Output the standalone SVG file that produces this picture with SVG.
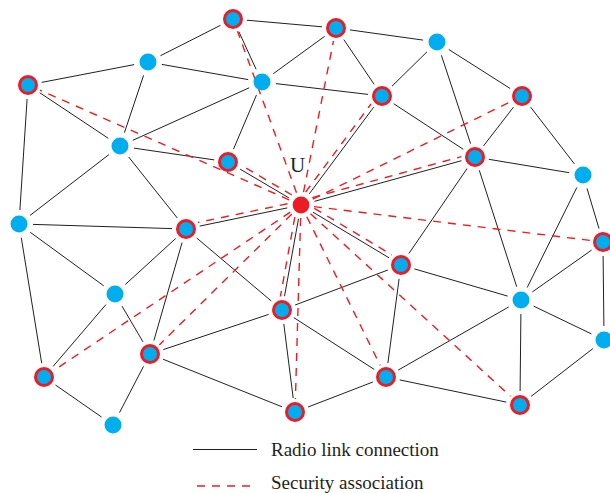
<svg xmlns="http://www.w3.org/2000/svg" width="610" height="493" viewBox="0 0 610 493">
  <style>
    .link { stroke: #231F20; stroke-width: 1; fill: none; }
    .sa { stroke: #ED1C24; stroke-width: 1.4; stroke-dasharray: 8 7; fill: none; }
    .node { fill: #00AEEF; }
    .ring { fill: #00AEEF; stroke: #ED1C24; stroke-width: 3; }
    .user { fill: #ED1C24; }
    .label { font-family: "Liberation Serif", "Times New Roman", serif; fill: #231F20; }
  </style>
  <rect width="610" height="493" fill="#ffffff"/>

  <g id="connectors">
    <!-- radio links between neighbouring nodes -->
    <g id="radio-links" class="link">
      <line x1="220.5" y1="25.3" x2="160.5" y2="55.7"/>
      <line x1="246.9" y1="20.2" x2="322.1" y2="26.8"/>
      <line x1="238.9" y1="31.7" x2="256.1" y2="69.3"/>
      <line x1="41.7" y1="82.4" x2="134.2" y2="64.6"/>
      <line x1="161.8" y1="64.4" x2="248.2" y2="79.6"/>
      <line x1="143.6" y1="75.3" x2="124.4" y2="132.7"/>
      <line x1="273.3" y1="73.7" x2="324.7" y2="36.3"/>
      <line x1="275.9" y1="83.6" x2="368.1" y2="94.4"/>
      <line x1="249.2" y1="87.8" x2="132.8" y2="140.3"/>
      <line x1="256.5" y1="94.9" x2="233.5" y2="149.1"/>
      <line x1="39.7" y1="92.7" x2="108.3" y2="138.3"/>
      <line x1="27.1" y1="99" x2="19.9" y2="210"/>
      <line x1="133.9" y1="148.1" x2="214.2" y2="159.9"/>
      <line x1="108.9" y1="154.6" x2="30.1" y2="215.4"/>
      <line x1="128.7" y1="157" x2="177.3" y2="218"/>
      <line x1="240.1" y1="169.1" x2="288.9" y2="197.9"/>
      <line x1="33" y1="224.4" x2="172" y2="228.6"/>
      <line x1="199.7" y1="226.1" x2="287.3" y2="207.9"/>
      <line x1="30.3" y1="232.3" x2="103.7" y2="285.8"/>
      <line x1="21.3" y1="237.8" x2="41.7" y2="363.2"/>
      <line x1="175.7" y1="238.5" x2="125.3" y2="284.5"/>
      <line x1="182.1" y1="242.5" x2="153.9" y2="340.5"/>
      <line x1="196.7" y1="238" x2="271.3" y2="301"/>
      <line x1="122" y1="306.1" x2="143" y2="341.9"/>
      <line x1="105.9" y1="304.6" x2="53.1" y2="366.4"/>
      <line x1="163.3" y1="349.6" x2="268.7" y2="314.4"/>
      <line x1="163" y1="359.2" x2="282" y2="406.8"/>
      <line x1="143.5" y1="366.4" x2="119.5" y2="412.6"/>
      <line x1="55.5" y1="385" x2="101.5" y2="417"/>
      <line x1="284.5" y1="296.2" x2="298.5" y2="218.8"/>
      <line x1="283.8" y1="323.9" x2="293.2" y2="398.1"/>
      <line x1="295.1" y1="305" x2="387.9" y2="270"/>
      <line x1="293.8" y1="317.6" x2="374.2" y2="369.4"/>
      <line x1="313" y1="212.2" x2="389" y2="257.8"/>
      <line x1="408.9" y1="253.5" x2="467.1" y2="168.5"/>
      <line x1="479.3" y1="170.3" x2="516.7" y2="286.7"/>
      <line x1="527.2" y1="287.5" x2="576.8" y2="187.5"/>
      <line x1="587" y1="188.4" x2="599" y2="228.6"/>
      <line x1="414.4" y1="268.9" x2="507.6" y2="296.1"/>
      <line x1="399.1" y1="278.9" x2="387.9" y2="363.1"/>
      <line x1="591.6" y1="250.1" x2="532.4" y2="291.9"/>
      <line x1="603.1" y1="256" x2="603.9" y2="326"/>
      <line x1="533.6" y1="306.1" x2="591.4" y2="333.9"/>
      <line x1="508.8" y1="306.9" x2="398.2" y2="370.1"/>
      <line x1="520.9" y1="314" x2="520.1" y2="391"/>
      <line x1="592.9" y1="348.6" x2="531.1" y2="396.4"/>
      <line x1="399.7" y1="379.9" x2="506.3" y2="402.1"/>
      <line x1="372.9" y1="382" x2="308.1" y2="407"/>
      <line x1="343.8" y1="39.6" x2="374.2" y2="84.4"/>
      <line x1="349.9" y1="29.9" x2="423.1" y2="40.1"/>
      <line x1="392" y1="86.2" x2="427" y2="51.8"/>
      <line x1="441.4" y1="55.3" x2="470.6" y2="143.7"/>
      <line x1="448.8" y1="49.5" x2="510.2" y2="88.5"/>
      <line x1="393.7" y1="103.7" x2="463.3" y2="149.3"/>
      <line x1="373.7" y1="107.2" x2="309.3" y2="193.8"/>
      <line x1="513.5" y1="107.1" x2="483.5" y2="145.9"/>
      <line x1="530.6" y1="107.1" x2="574.4" y2="163.9"/>
      <line x1="461.5" y1="160.7" x2="314.5" y2="201.3"/>
      <line x1="488.8" y1="159.3" x2="569.2" y2="172.7"/>
    </g>
    <!-- security associations held by U -->
    <g id="security-associations" class="sa">
      <line x1="296.5" y1="192.8" x2="237.5" y2="31.2"/>
      <line x1="289.1" y1="199.8" x2="39.9" y2="90.2"/>
      <line x1="291.8" y1="195" x2="241.2" y2="165.2"/>
      <line x1="287.5" y1="203.8" x2="197.9" y2="222.5"/>
      <line x1="303.5" y1="192.2" x2="333.5" y2="40.8"/>
      <line x1="305.6" y1="192.2" x2="371" y2="104"/>
      <line x1="312.7" y1="199.2" x2="510.3" y2="101.8"/>
      <line x1="312.4" y1="197.6" x2="461.4" y2="156.6"/>
      <line x1="313.9" y1="206.6" x2="590.1" y2="240.4"/>
      <line x1="314.3" y1="208.3" x2="391.9" y2="254.9"/>
      <line x1="310.6" y1="213.8" x2="510.4" y2="396.2"/>
      <line x1="300.6" y1="218" x2="295.4" y2="399"/>
      <line x1="306.8" y1="216.7" x2="380.2" y2="365.4"/>
      <line x1="294.8" y1="217.1" x2="280.4" y2="296.5"/>
      <line x1="291.8" y1="214.1" x2="159.3" y2="344.9"/>
      <line x1="290.2" y1="212.2" x2="54.8" y2="369.8"/>
    </g>
  </g>

  <!-- nodes -->
  <g id="node-u"><circle class="user" cx="301" cy="205" r="8.4"/><text class="label" x="290" y="172" font-size="21">U</text></g>
  <g id="node-a"><circle class="ring" cx="233" cy="19" r="8.5"/></g>
  <g id="node-b"><circle class="node" cx="148" cy="62" r="8.5"/></g>
  <g id="node-c"><circle class="ring" cx="28" cy="85" r="8.5"/></g>
  <g id="node-d"><circle class="node" cx="262" cy="82" r="8.5"/></g>
  <g id="node-e"><circle class="node" cx="120" cy="146" r="8.5"/></g>
  <g id="node-f"><circle class="ring" cx="228" cy="162" r="8.5"/></g>
  <g id="node-g"><circle class="node" cx="19" cy="224" r="8.5"/></g>
  <g id="node-h"><circle class="ring" cx="186" cy="229" r="8.5"/></g>
  <g id="node-i"><circle class="ring" cx="336" cy="28" r="8.5"/></g>
  <g id="node-j"><circle class="node" cx="437" cy="42" r="8.5"/></g>
  <g id="node-k"><circle class="ring" cx="382" cy="96" r="8.5"/></g>
  <g id="node-l"><circle class="ring" cx="522" cy="96" r="8.5"/></g>
  <g id="node-m"><circle class="ring" cx="475" cy="157" r="8.5"/></g>
  <g id="node-n"><circle class="node" cx="583" cy="175" r="8.5"/></g>
  <g id="node-o"><circle class="ring" cx="603" cy="242" r="8.5"/></g>
  <g id="node-p"><circle class="ring" cx="401" cy="265" r="8.5"/></g>
  <g id="node-q"><circle class="node" cx="521" cy="300" r="8.5"/></g>
  <g id="node-r"><circle class="node" cx="604" cy="340" r="8.5"/></g>
  <g id="node-s"><circle class="ring" cx="282" cy="310" r="8.5"/></g>
  <g id="node-t"><circle class="node" cx="115" cy="294" r="8.5"/></g>
  <g id="node-v"><circle class="ring" cx="150" cy="354" r="8.5"/></g>
  <g id="node-w"><circle class="ring" cx="44" cy="377" r="8.5"/></g>
  <g id="node-x"><circle class="node" cx="113" cy="425" r="8.5"/></g>
  <g id="node-y"><circle class="ring" cx="295" cy="412" r="8.5"/></g>
  <g id="node-z"><circle class="ring" cx="386" cy="377" r="8.5"/></g>
  <g id="node-aa"><circle class="ring" cx="520" cy="405" r="8.5"/></g>

  <!-- legend -->
  <g id="legend">
    <line class="link" x1="193" y1="449.5" x2="257" y2="449.5"/>
    <text class="label" x="271" y="456" font-size="19">Radio link connection</text>
    <line class="sa" x1="197" y1="486" x2="253" y2="486"/>
    <text class="label" x="271" y="488.5" font-size="19">Security association</text>
  </g>
</svg>
